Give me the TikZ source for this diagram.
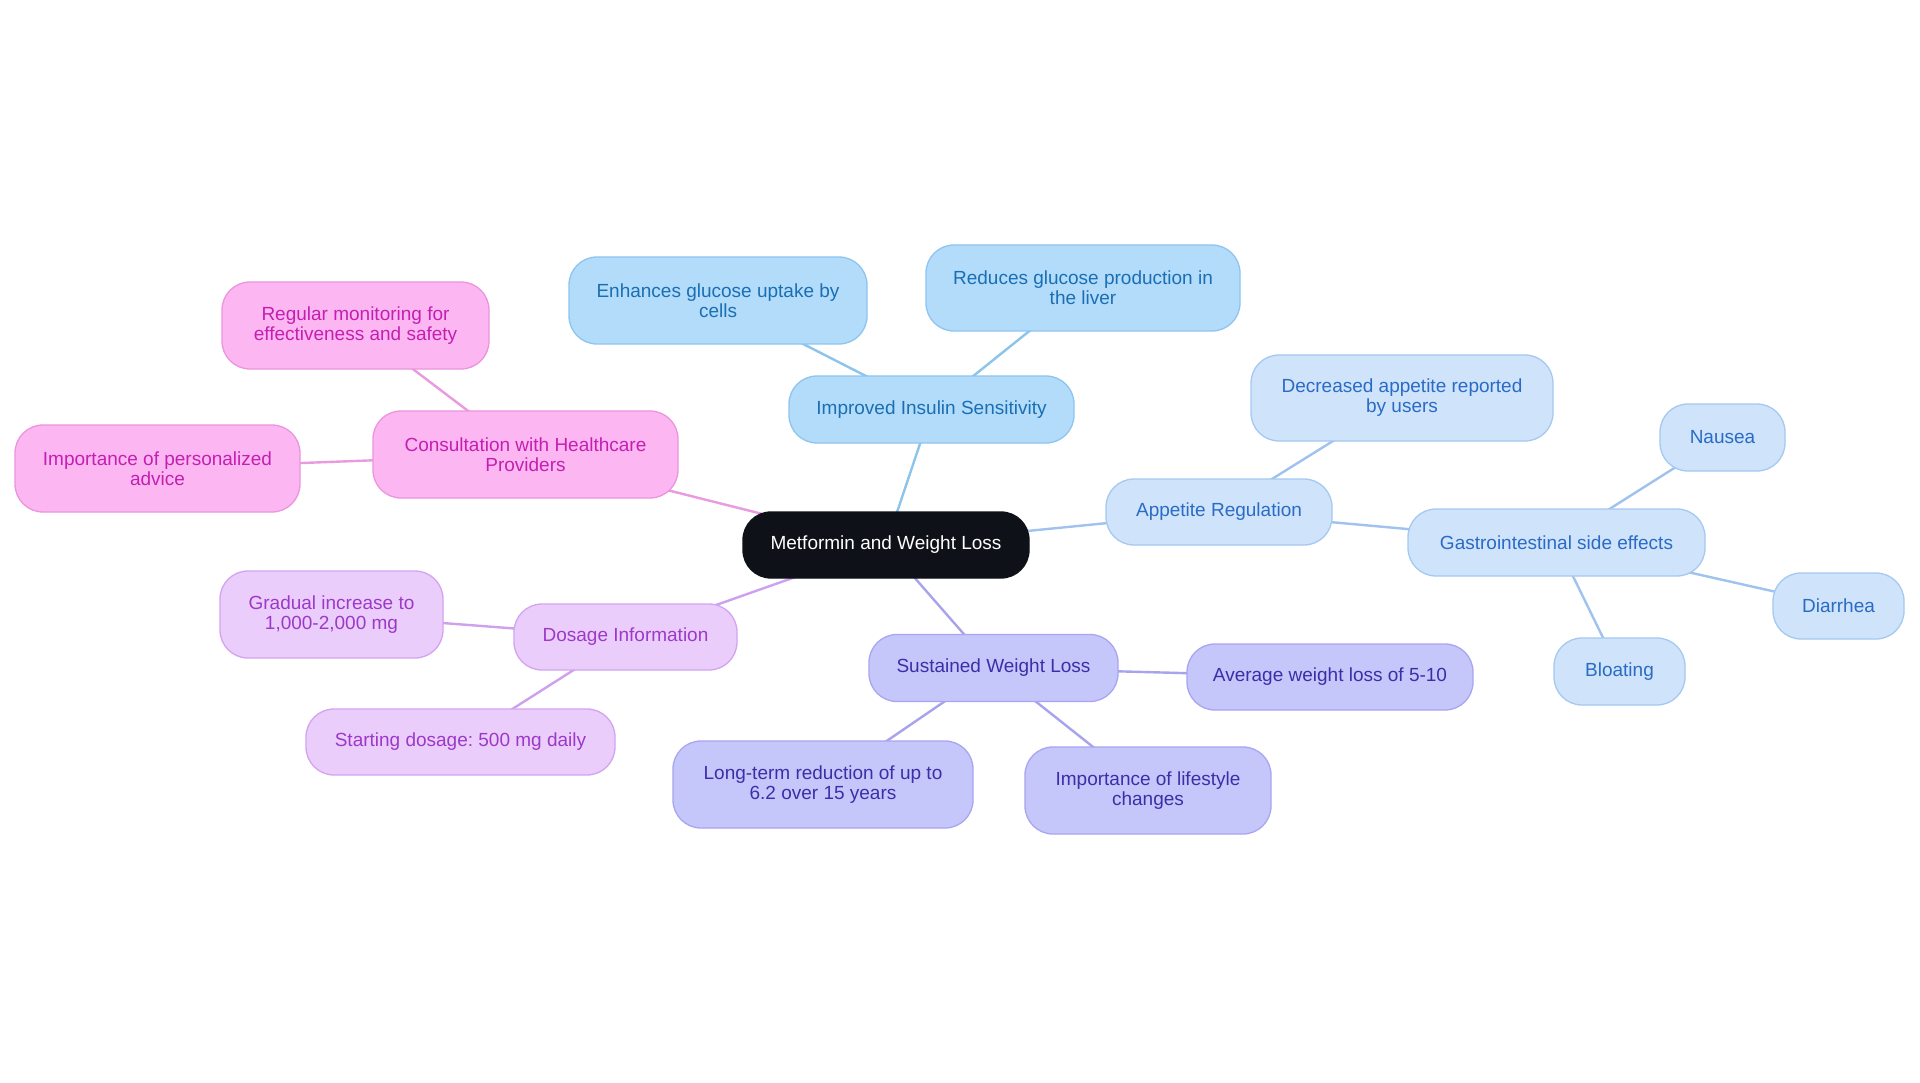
\documentclass[tikz,border=0pt]{standalone}
\usepackage{fontspec}
\setmainfont{Liberation Sans}
\usetikzlibrary{backgrounds}
\frenchspacing
\definecolor{cfill}{HTML}{0E1218}
\definecolor{bfill}{HTML}{B3DCFB}\definecolor{bdraw}{HTML}{8EC5EF}\definecolor{btext}{HTML}{1A6FB3}\definecolor{bedge}{HTML}{8CC4EC}
\definecolor{afill}{HTML}{CFE3FB}\definecolor{adraw}{HTML}{A5C9F0}\definecolor{atext}{HTML}{2A6BC5}\definecolor{aedge}{HTML}{9FC3EE}
\definecolor{sfill}{HTML}{C5C7FB}\definecolor{sdraw}{HTML}{A9A5F0}\definecolor{stext}{HTML}{3B2FA8}\definecolor{sedge}{HTML}{A7A3EC}
\definecolor{dfill}{HTML}{EBCDFC}\definecolor{ddraw}{HTML}{D3A4F0}\definecolor{dtext}{HTML}{9C39C8}\definecolor{dedge}{HTML}{CFA0EE}
\definecolor{pfill}{HTML}{FCB7F2}\definecolor{pdraw}{HTML}{EB95DE}\definecolor{ptext}{HTML}{C41FB0}\definecolor{pedge}{HTML}{EA9ADE}
\tikzset{
  box/.style={rectangle, rounded corners=28pt, line width=1.3pt, align=center, inner sep=0pt,
    font=\fontsize{19}{20}\selectfont},
  wh/.style 2 args={minimum width=#1pt, minimum height=#2pt},
  rootbox/.style={box, fill=cfill, draw=cfill, text=white},
  bbox/.style={box, fill=bfill, draw=bdraw, text=btext},
  abox/.style={box, fill=afill, draw=adraw, text=atext},
  sbox/.style={box, fill=sfill, draw=sdraw, text=stext},
  dbox/.style={box, fill=dfill, draw=ddraw, text=dtext},
  pbox/.style={box, fill=pfill, draw=pdraw, text=ptext},
  link/.style={line width=2.4pt},
}
\begin{document}
\begin{tikzpicture}[x=1pt,y=-1pt]
\useasboundingbox (0,0) rectangle (1920,1083);
% nodes
\node[rootbox,wh={286}{66}] (root) at (886,545) {Metformin and Weight Loss};
\node[bbox,wh={285}{67}] (imp) at (931.5,409.5) {Improved Insulin Sensitivity};
\node[bbox,wh={298}{87}] (enh) at (718,300.5) {Enhances glucose uptake by\\cells};
\node[bbox,wh={314}{86}] (red) at (1083,288) {Reduces glucose production in\\the liver};
\node[abox,wh={226}{66}] (app) at (1219,512) {Appetite Regulation};
\node[abox,wh={302}{86}] (dec) at (1402,398) {Decreased appetite reported\\by users};
\node[abox,wh={297}{67}] (gi) at (1556.5,542.5) {Gastrointestinal side effects};
\node[abox,wh={125}{67}] (nau) at (1722.5,437.5) {Nausea};
\node[abox,wh={131}{66}] (dia) at (1838.5,606) {Diarrhea};
\node[abox,wh={131}{67}] (blo) at (1619.5,671.5) {Bloating};
\node[sbox,wh={249}{67}] (sus) at (993.5,668) {Sustained Weight Loss};
\node[sbox,wh={286}{66}] (avg) at (1330,677) {Average weight loss of 5-10};
\node[sbox,wh={300}{87}] (lt) at (823,784.5) {Long-term reduction of up to\\6.2 over 15 years};
\node[sbox,wh={246}{87}] (ils) at (1148,790.5) {Importance of lifestyle\\changes};
\node[dbox,wh={223}{66}] (dos) at (625.5,637) {Dosage Information};
\node[dbox,wh={223}{87}] (gra) at (331.5,614.5) {Gradual increase to\\1,000-2,000 mg};
\node[dbox,wh={309}{66}] (sta) at (460.5,742) {Starting dosage: 500 mg daily};
\node[pbox,wh={305}{87}] (con) at (525.5,454.5) {Consultation with Healthcare\\Providers};
\node[pbox,wh={267}{87}] (reg) at (355.5,325.5) {Regular monitoring for\\effectiveness and safety};
\node[pbox,wh={285}{87}] (ipa) at (157.5,468.5) {Importance of personalized\\advice};
% connectors
\begin{scope}[on background layer]
\fill[white] (0,0) rectangle (1920,1083);
\draw[link,bedge] (root.center) -- (imp.center);
\draw[link,bedge] (imp.center) -- (enh.center);
\draw[link,bedge] (imp.center) -- (red.center);
\draw[link,aedge] (root.center) -- (app.center);
\draw[link,aedge] (app.center) -- (dec.center);
\draw[link,aedge] (app.center) -- (gi.center);
\draw[link,aedge] (gi.center) -- (nau.center);
\draw[link,aedge] (gi.center) -- (dia.center);
\draw[link,aedge] (gi.center) -- (blo.center);
\draw[link,sedge] (root.center) -- (sus.center);
\draw[link,sedge] (sus.center) -- (avg.center);
\draw[link,sedge] (sus.center) -- (lt.center);
\draw[link,sedge] (sus.center) -- (ils.center);
\draw[link,dedge] (root.center) -- (dos.center);
\draw[link,dedge] (dos.center) -- (gra.center);
\draw[link,dedge] (dos.center) -- (sta.center);
\draw[link,pedge] (root.center) -- (con.center);
\draw[link,pedge] (con.center) -- (reg.center);
\draw[link,pedge] (con.center) -- (ipa.center);
\end{scope}
\end{tikzpicture}
\end{document}
